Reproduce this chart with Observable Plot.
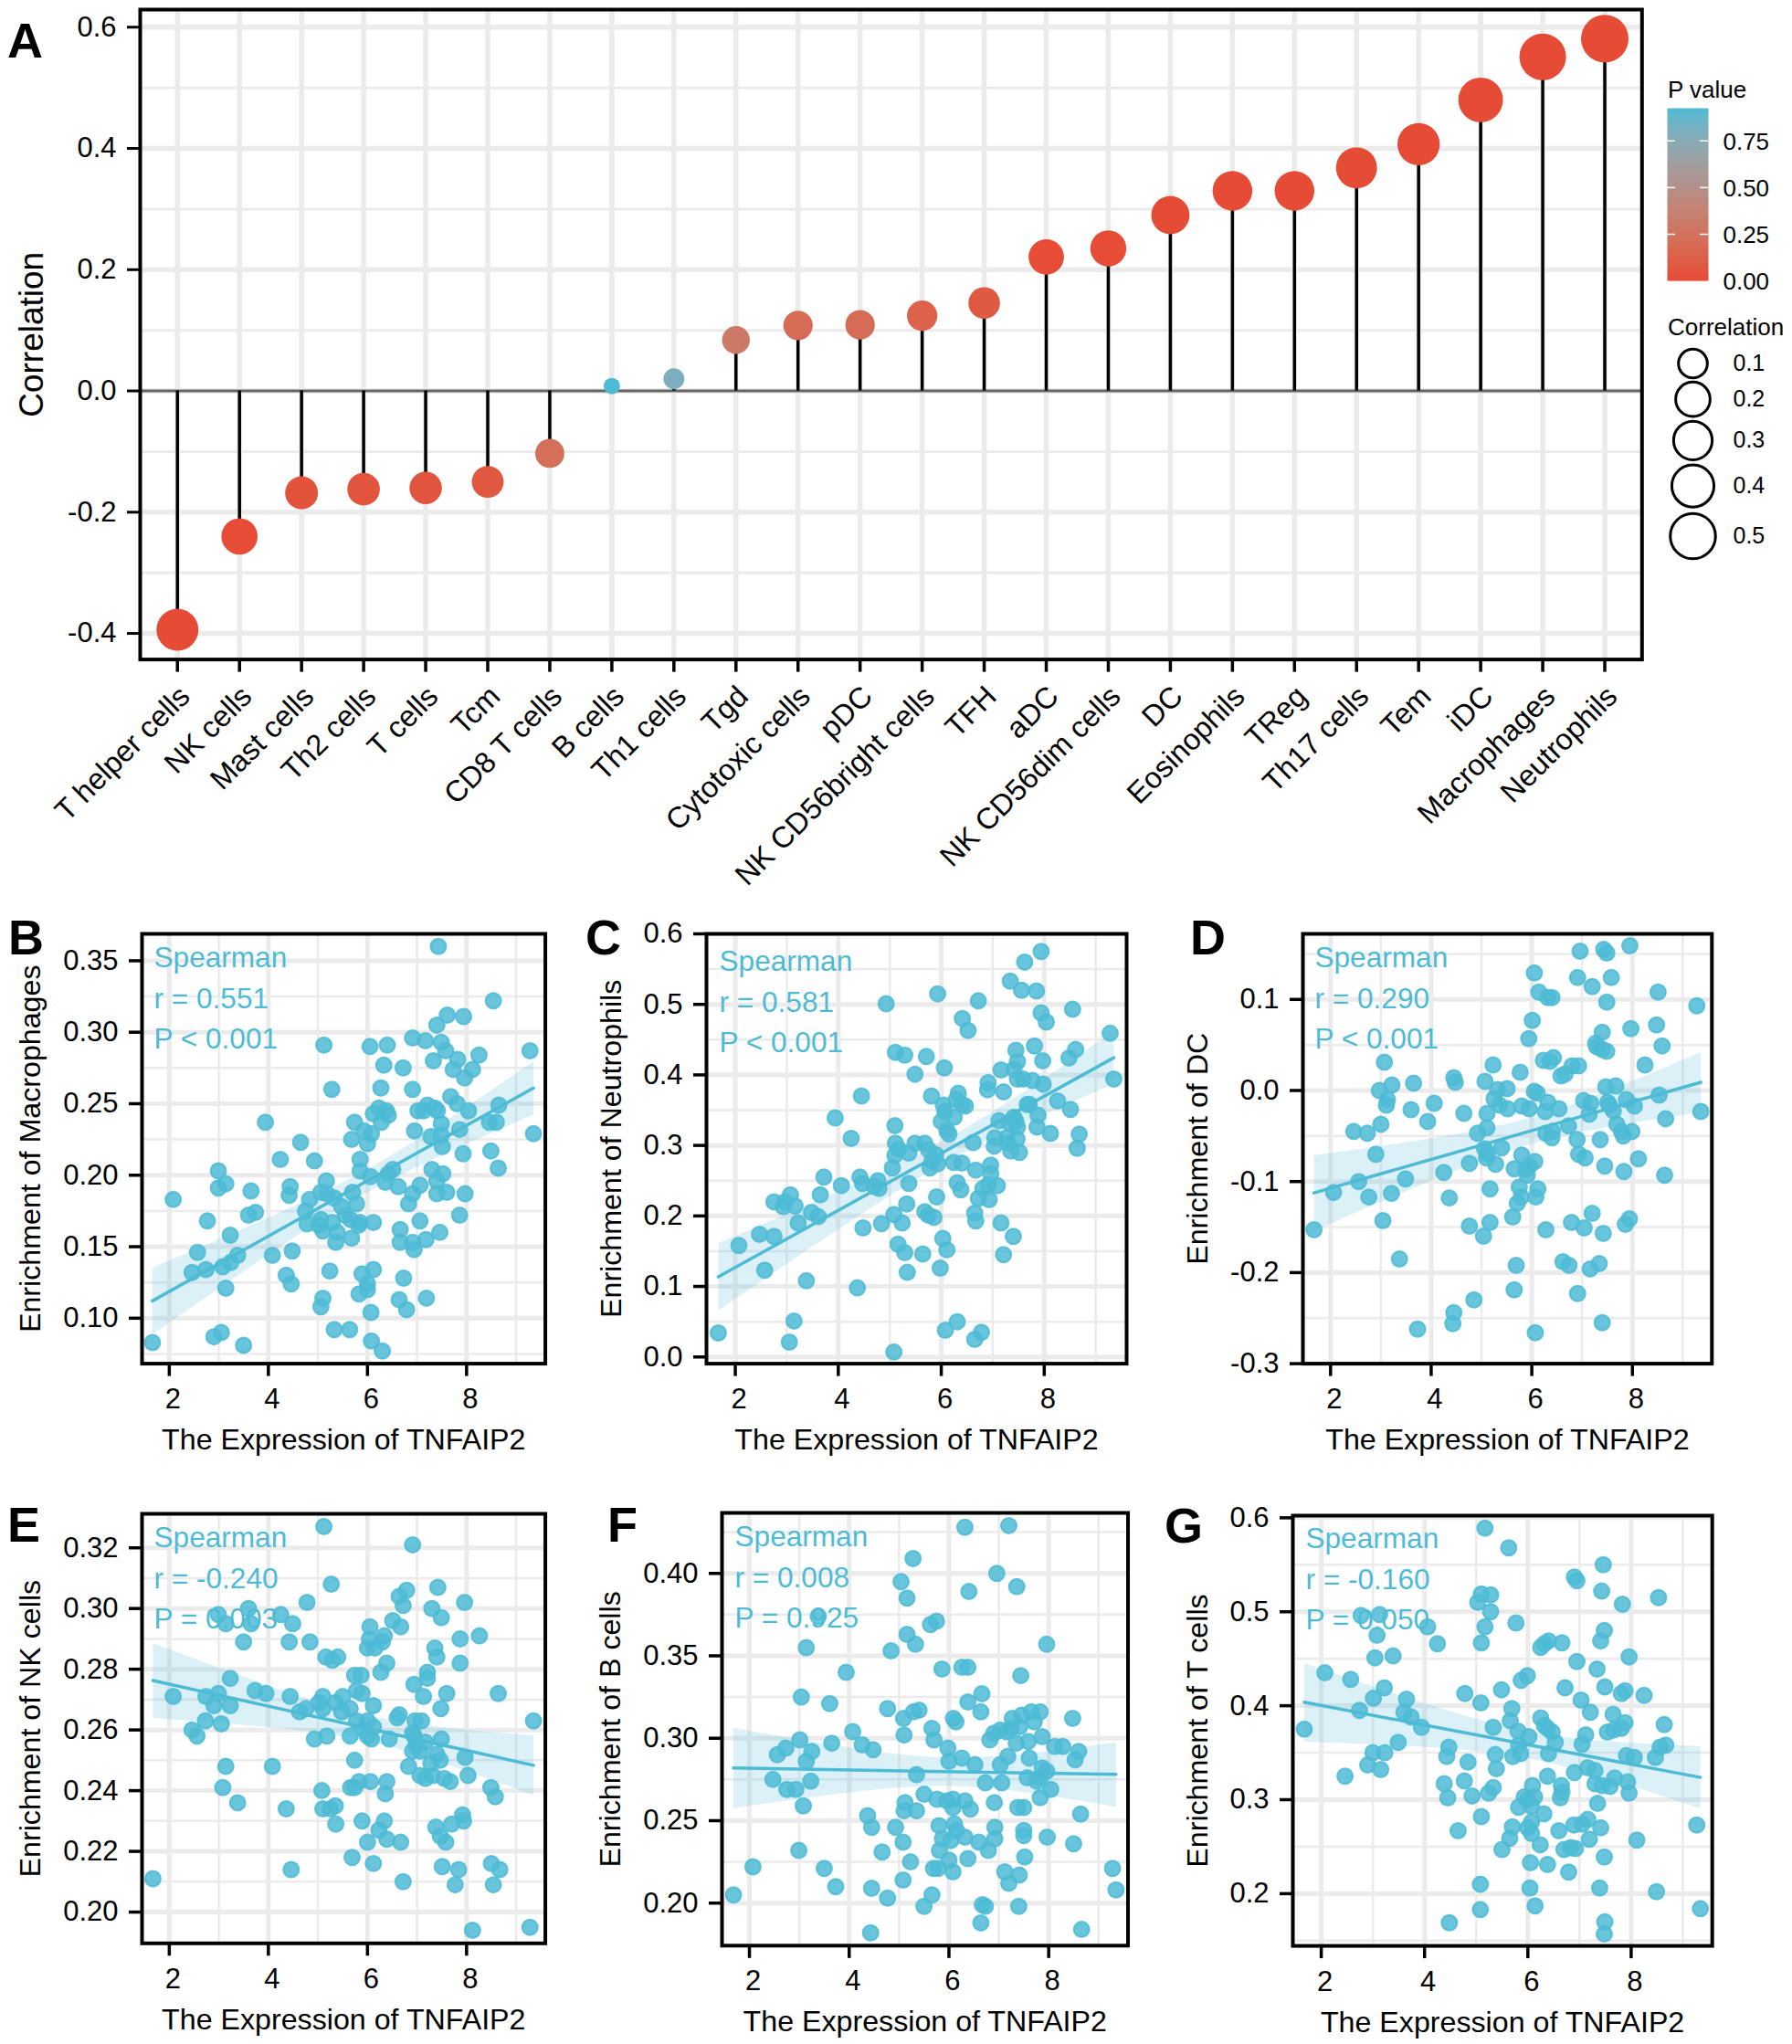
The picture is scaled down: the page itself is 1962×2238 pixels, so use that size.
<!DOCTYPE html>
<html><head><meta charset="utf-8">
<script src="https://cdn.jsdelivr.net/npm/d3@7"></script>
<script src="https://cdn.jsdelivr.net/npm/@observablehq/plot@0.6"></script>
<style>
html,body{margin:0;padding:0;background:#fff}
#root{position:relative;width:1962px;height:2238px;overflow:hidden;font-family:"Liberation Sans",Arial,sans-serif;color:#000}
.lbl{position:absolute;line-height:1;white-space:nowrap}
.big{font-weight:bold;font-size:54px}
.leg{font-size:26px}
</style></head><body><div id="root"></div>
<script>
const cells=["T helper cells","NK cells","Mast cells","Th2 cells","T cells","Tcm","CD8 T cells","B cells","Th1 cells","Tgd","Cytotoxic cells","pDC","NK CD56bright cells","TFH","aDC","NK CD56dim cells","DC","Eosinophils","TReg","Th17 cells","Tem","iDC","Macrophages","Neutrophils"];
const corrs=[-0.394,-0.24,-0.168,-0.162,-0.16,-0.15,-0.103,0.008,0.02,0.084,0.108,0.109,0.124,0.145,0.221,0.235,0.29,0.33,0.33,0.368,0.407,0.48,0.551,0.581];
const pvals=[0,0.003,0.04,0.05,0.05,0.07,0.22,0.925,0.8,0.3,0.2,0.2,0.13,0.08,0.006,0.004,0,0,0,0,0,0,0,0];

const macrophages=[[7.43,.360],[8.54,.322],[7.61,.312],[7.94,.311],[7.40,.305],[6.91,.296],[7.17,.294],[7.49,.293],[5.12,.291],[6.05,.290],[6.40,.291],[7.58,.287],[9.28,.287],[8.25,.284],[7.33,.280],[7.82,.281],[6.33,.277],[6.72,.275],[7.73,.274],[8.12,.274],[7.96,.268],[5.28,.260],[6.27,.261],[6.91,.260],[7.68,.255],[7.81,.250],[8.65,.249],[8.04,.245],[6.23,.247],[6.38,.245],[6.12,.243],[6.42,.242],[6.28,.237],[7.02,.245],[7.13,.245],[7.21,.249],[7.36,.247],[7.41,.245],[7.49,.236],[3.94,.237],[5.74,.237],[8.46,.237],[8.60,.237],[7.86,.232],[9.35,.229],[6.95,.231],[5.93,.231],[6.08,.229],[5.68,.225],[6.00,.222],[7.28,.227],[7.49,.228],[7.51,.220],[4.65,.223],[7.93,.215],[8.49,.217],[4.24,.211],[4.93,.210],[5.85,.211],[8.64,.205],[5.85,.203],[7.30,.204],[7.52,.201],[2.99,.203],[6.06,.199],[6.51,.204],[6.42,.201],[5.17,.196],[6.36,.195],[6.62,.192],[7.06,.193],[7.40,.196],[3.14,.194],[2.99,.191],[4.44,.192],[4.42,.186],[3.65,.189],[2.08,.183],[5.06,.188],[5.18,.187],[5.70,.188],[5.33,.184],[4.83,.183],[5.78,.180],[6.91,.187],[6.83,.180],[7.40,.187],[7.60,.188],[7.97,.187],[7.86,.172],[3.74,.174],[3.60,.172],[4.75,.175],[5.48,.178],[5.55,.172],[2.77,.168],[4.78,.166],[5.06,.169],[5.02,.165],[5.10,.161],[5.29,.167],[5.66,.169],[5.82,.165],[5.85,.167],[6.12,.167],[5.39,.160],[5.36,.153],[5.68,.156],[7.06,.168],[6.66,.162],[7.46,.160],[6.66,.153],[6.91,.153],[6.94,.148],[7.18,.155],[3.23,.158],[2.57,.146],[4.48,.147],[3.38,.144],[4.08,.144],[3.24,.139],[3.08,.136],[2.74,.134],[2.46,.132],[5.24,.133],[6.12,.134],[5.89,.131],[4.36,.130],[6.73,.128],[6.00,.124],[4.46,.124],[3.14,.121],[6.00,.120],[5.83,.117],[6.64,.113],[7.19,.114],[5.10,.114],[5.06,.108],[6.07,.104],[6.79,.106],[5.33,.092],[5.64,.092],[3.05,.090],[2.90,.087],[3.50,.081],[1.66,.083],[6.08,.084],[6.30,.077]];

const neutrophils=[[7.94,.575],[7.62,.560],[7.34,.533],[7.56,.520],[7.85,.519],[5.93,.515],[6.72,.505],[4.93,.501],[8.55,.493],[6.41,.480],[7.94,.488],[8.04,.475],[6.52,.463],[9.28,.459],[7.81,.441],[8.61,.436],[8.48,.424],[7.45,.435],[7.48,.419],[5.11,.432],[5.29,.428],[5.71,.426],[7.97,.420],[6.06,.410],[7.16,.407],[7.41,.408],[5.49,.401],[7.48,.394],[7.59,.394],[7.77,.392],[7.98,.387],[9.35,.394],[6.91,.389],[6.90,.379],[7.21,.376],[4.45,.370],[5.81,.370],[6.33,.374],[6.29,.365],[6.47,.356],[6.40,.358],[6.04,.357],[6.07,.348],[8.26,.363],[7.67,.358],[7.71,.358],[8.51,.351],[3.94,.339],[7.88,.343],[6.25,.340],[6.00,.334],[7.12,.335],[7.41,.340],[7.45,.334],[7.34,.331],[7.48,.326],[7.86,.326],[5.10,.328],[6.11,.321],[6.15,.316],[8.12,.317],[8.68,.316],[4.25,.310],[7.04,.311],[7.27,.311],[7.47,.309],[6.62,.304],[5.11,.303],[5.49,.303],[5.68,.303],[7.30,.303],[7.03,.299],[5.17,.295],[5.10,.286],[5.37,.289],[5.75,.294],[7.35,.292],[7.52,.290],[8.64,.296],[5.89,.287],[5.82,.278],[6.24,.276],[6.40,.275],[5.93,.274],[5.78,.268],[5.05,.268],[6.67,.265],[6.96,.272],[6.96,.260],[3.72,.255],[4.42,.255],[4.47,.246],[4.77,.250],[4.70,.242],[4.79,.239],[4.06,.243],[5.37,.246],[6.31,.247],[6.38,.237],[7.09,.243],[6.91,.244],[6.81,.239],[6.72,.225],[6.93,.223],[3.65,.230],[3.07,.230],[2.75,.220],[2.96,.220],[2.93,.213],[3.16,.214],[5.91,.227],[5.33,.217],[3.48,.205],[3.61,.199],[5.68,.206],[5.75,.201],[5.86,.198],[5.08,.202],[6.65,.204],[6.67,.193],[3.22,.190],[4.84,.189],[5.24,.190],[7.16,.190],[2.47,.174],[4.48,.183],[2.75,.171],[7.40,.171],[6.03,.168],[2.07,.158],[5.16,.160],[5.29,.148],[6.11,.152],[5.64,.146],[7.21,.145],[2.57,.123],[5.98,.126],[5.34,.120],[3.38,.108],[4.37,.098],[3.14,.051],[6.31,.050],[6.08,.038],[6.78,.035],[6.65,.025],[1.67,.034],[3.05,.021],[5.08,.007]];

const dc=[[6.96,.153],[7.43,.155],[7.49,.151],[7.95,.159],[6.05,.129],[6.91,.124],[7.58,.124],[7.20,.114],[6.14,.108],[8.51,.108],[6.32,.102],[6.40,.102],[7.49,.097],[9.28,.093],[6.01,.077],[8.48,.072],[7.97,.068],[7.40,.064],[5.94,.057],[7.27,.052],[7.29,.048],[8.59,.049],[7.40,.045],[7.49,.043],[3.07,.031],[6.43,.036],[6.23,.033],[6.36,.032],[6.80,.027],[6.93,.027],[5.23,.028],[8.25,.028],[5.77,.020],[6.58,.016],[6.66,.018],[4.45,.014],[4.48,.009],[3.65,.008],[5.07,.010],[3.22,.006],[2.97,.000],[5.32,.001],[5.51,.002],[6.05,-.001],[6.11,-.003],[7.47,.004],[7.67,.005],[8.53,-.005],[5.25,-.009],[7.03,-.011],[7.88,-.010],[6.32,-.013],[3.13,-.010],[3.11,-.016],[4.06,-.014],[7.17,-.014],[7.51,-.013],[7.54,-.016],[8.04,-.017],[5.36,-.016],[5.52,-.020],[5.80,-.017],[5.95,-.020],[6.27,-.023],[6.54,-.020],[7.62,-.022],[9.36,-.023],[3.60,-.021],[4.65,-.025],[5.11,-.025],[7.14,-.026],[8.66,-.031],[3.93,-.034],[3.00,-.037],[6.73,-.039],[7.69,-.037],[5.11,-.041],[2.46,-.045],[2.73,-.047],[4.92,-.047],[6.28,-.047],[6.41,-.045],[6.40,-.052],[7.78,-.045],[7.99,-.045],[7.82,-.050],[6.90,-.054],[7.36,-.054],[5.40,-.063],[5.06,-.064],[5.12,-.069],[2.90,-.070],[5.80,-.071],[5.10,-.074],[6.93,-.070],[7.06,-.074],[8.12,-.075],[6.06,-.078],[5.28,-.081],[4.76,-.080],[5.95,-.083],[7.45,-.083],[5.65,-.086],[5.88,-.087],[4.25,-.090],[7.83,-.089],[5.91,-.093],[8.64,-.093],[3.49,-.097],[2.56,-.100],[5.75,-.106],[6.12,-.108],[5.17,-.108],[2.06,-.112],[3.21,-.113],[4.36,-.118],[2.76,-.117],[5.79,-.117],[6.08,-.117],[5.71,-.124],[7.20,-.135],[5.62,-.139],[3.04,-.143],[5.17,-.145],[6.79,-.145],[4.76,-.149],[7.94,-.141],[7.86,-.147],[7.04,-.151],[6.28,-.153],[1.67,-.153],[7.42,-.157],[5.04,-.160],[3.37,-.185],[6.62,-.188],[6.74,-.192],[7.34,-.190],[7.16,-.196],[5.69,-.192],[5.65,-.219],[6.91,-.223],[4.85,-.230],[4.45,-.244],[7.40,-.255],[4.43,-.256],[3.73,-.262],[6.07,-.266]];

const nkCells=[[5.12,.327],[6.91,.321],[5.27,.308],[7.42,.307],[6.79,.306],[6.64,.304],[6.72,.301],[4.78,.302],[7.96,.302],[7.30,.300],[7.49,.297],[2.99,.298],[3.14,.295],[3.60,.300],[3.65,.295],[4.25,.298],[4.49,.295],[3.50,.289],[4.42,.289],[4.84,.289],[6.51,.296],[6.67,.294],[6.05,.294],[8.26,.291],[6.34,.291],[6.04,.290],[6.30,.289],[7.87,.290],[6.00,.287],[6.15,.287],[7.36,.287],[7.40,.284],[5.16,.284],[5.40,.284],[5.29,.283],[6.39,.282],[7.87,.282],[6.27,.279],[5.87,.278],[5.74,.278],[7.21,.279],[7.21,.277],[3.23,.277],[6.94,.275],[3.73,.273],[3.95,.272],[5.78,.273],[5.89,.272],[7.60,.272],[8.64,.272],[2.99,.272],[2.74,.271],[2.08,.271],[4.44,.271],[7.13,.271],[5.10,.271],[5.50,.271],[5.35,.269],[5.02,.269],[2.90,.268],[3.23,.268],[6.12,.268],[5.10,.267],[5.65,.267],[4.76,.267],[4.63,.266],[5.48,.266],[7.48,.267],[6.64,.265],[6.60,.264],[2.73,.263],[3.05,.262],[5.78,.263],[6.00,.263],[6.96,.263],[7.09,.263],[9.35,.263],[6.12,.261],[2.46,.260],[2.56,.258],[5.93,.260],[6.91,.259],[6.00,.258],[5.18,.258],[5.65,.258],[4.93,.257],[6.08,.257],[6.94,.258],[6.44,.257],[7.17,.256],[7.49,.257],[6.98,.255],[6.91,.253],[7.06,.253],[7.40,.252],[7.97,.251],[5.74,.250],[7.47,.250],[7.28,.249],[4.08,.248],[3.14,.248],[6.83,.248],[7.06,.245],[7.17,.244],[7.32,.245],[8.03,.245],[7.55,.244],[7.67,.243],[8.49,.241],[6.39,.243],[6.06,.243],[5.83,.243],[5.66,.241],[5.74,.241],[3.08,.241],[5.08,.240],[6.36,.239],[8.58,.238],[3.38,.236],[5.35,.235],[5.10,.234],[5.25,.234],[4.36,.234],[7.92,.232],[7.94,.230],[6.34,.230],[5.89,.230],[5.36,.229],[7.70,.229],[7.38,.228],[6.23,.227],[7.47,.225],[7.58,.223],[6.39,.224],[6.67,.223],[6.00,.223],[5.69,.218],[6.12,.216],[8.50,.216],[7.51,.215],[8.67,.214],[7.84,.214],[4.46,.214],[1.67,.211],[6.72,.210],[8.54,.209],[7.77,.209],[8.12,.194],[9.28,.195]];

const bCells=[[6.32,.428],[7.20,.429],[5.28,.409],[6.96,.400],[5.04,.395],[7.36,.392],[6.40,.389],[5.16,.385],[3.38,.374],[5.75,.371],[5.63,.369],[5.16,.363],[5.33,.357],[7.96,.357],[4.84,.353],[3.14,.355],[6.26,.343],[6.38,.343],[5.86,.342],[3.94,.340],[7.44,.338],[6.66,.327],[3.04,.325],[6.38,.322],[3.61,.321],[4.77,.318],[5.40,.317],[5.29,.316],[6.64,.316],[7.83,.316],[7.65,.316],[5.09,.312],[8.48,.312],[6.09,.312],[6.14,.310],[7.27,.312],[7.46,.314],[7.71,.310],[7.42,.307],[7.24,.306],[5.66,.306],[7.03,.305],[6.90,.303],[7.16,.304],[4.07,.304],[5.10,.302],[7.87,.301],[5.70,.299],[6.82,.299],[3.01,.299],[7.59,.298],[7.35,.297],[3.65,.297],[4.26,.296],[8.12,.295],[8.28,.295],[2.73,.294],[4.48,.293],[5.98,.294],[3.25,.292],[2.56,.290],[8.60,.292],[7.18,.289],[7.61,.288],[6.26,.288],[8.53,.287],[3.14,.286],[6.00,.286],[6.52,.284],[7.03,.284],[7.87,.282],[7.96,.280],[5.35,.278],[7.57,.276],[7.83,.276],[2.47,.275],[3.23,.274],[6.73,.273],[7.06,.273],[7.76,.274],[2.75,.269],[2.93,.269],[8.04,.269],[5.50,.266],[5.76,.263],[5.96,.262],[6.08,.263],[7.83,.264],[6.32,.262],[6.91,.261],[5.12,.261],[6.08,.258],[3.08,.259],[6.43,.257],[7.38,.258],[7.50,.258],[5.10,.256],[5.35,.256],[8.64,.254],[4.37,.253],[4.45,.246],[5.80,.247],[6.11,.248],[6.92,.246],[4.93,.246],[7.50,.244],[6.15,.244],[7.50,.241],[6.32,.240],[7.97,.240],[6.92,.239],[5.87,.239],[6.04,.238],[5.08,.237],[6.60,.237],[8.50,.236],[5.81,.232],[2.99,.232],[6.79,.232],[4.66,.231],[7.52,.228],[6.38,.227],[2.07,.222],[6.00,.226],[5.23,.225],[5.69,.221],[5.78,.221],[3.50,.221],[9.28,.221],[6.08,.219],[7.12,.219],[7.41,.217],[7.20,.212],[5.08,.214],[3.73,.210],[9.35,.208],[4.45,.209],[5.66,.205],[1.68,.205],[4.77,.203],[6.67,.199],[6.73,.198],[5.50,.198],[7.40,.198],[6.64,.188],[8.66,.184],[4.43,.182]];

const tCells=[[5.17,.589],[5.63,.568],[7.46,.550],[6.90,.537],[6.95,.533],[7.43,.522],[8.53,.515],[5.10,.519],[5.28,.518],[5.03,.510],[7.83,.508],[5.28,.500],[3.13,.497],[2.77,.496],[5.77,.488],[3.08,.475],[4.06,.484],[5.17,.484],[7.48,.480],[7.41,.469],[5.10,.467],[6.40,.469],[6.32,.466],[6.25,.462],[6.66,.467],[4.25,.466],[3.39,.453],[3.04,.451],[7.96,.452],[6.95,.447],[7.34,.439],[2.07,.435],[2.57,.428],[5.99,.432],[5.87,.427],[7.49,.420],[6.72,.419],[3.22,.419],[5.49,.417],[7.88,.416],[7.81,.413],[4.78,.413],[8.25,.411],[3.01,.408],[3.65,.407],[7.03,.406],[5.09,.403],[2.74,.395],[5.69,.397],[3.60,.393],[7.21,.393],[3.74,.388],[7.65,.391],[6.25,.387],[5.66,.384],[7.88,.382],[8.64,.380],[6.32,.379],[6.38,.376],[5.33,.377],[3.94,.377],[1.67,.375],[7.81,.376],[7.66,.374],[7.54,.372],[5.81,.373],[6.47,.372],[6.02,.367],[7.12,.369],[6.53,.361],[7.05,.359],[3.49,.361],[5.82,.358],[8.67,.358],[8.56,.356],[4.47,.356],[6.40,.349],[5.37,.348],[5.86,.349],[3.00,.350],[3.23,.350],[7.91,.347],[5.71,.346],[4.43,.346],[8.06,.345],[8.47,.345],[4.84,.340],[2.90,.337],[5.39,.333],[3.15,.332],[7.16,.334],[7.30,.331],[6.90,.329],[2.46,.325],[6.38,.325],[7.68,.323],[7.93,.319],[4.77,.320],[4.38,.317],[7.30,.317],[7.44,.315],[7.59,.314],[6.09,.315],[6.65,.315],[5.33,.313],[6.66,.308],[5.24,.307],[7.96,.307],[4.92,.304],[4.45,.302],[6.63,.302],[5.93,.303],[6.13,.303],[6.00,.300],[6.07,.293],[7.35,.296],[5.82,.292],[6.31,.285],[5.10,.282],[7.16,.279],[7.05,.274],[6.89,.273],[9.27,.273],[6.07,.276],[5.70,.271],[6.00,.270],[7.41,.270],[6.60,.267],[4.65,.267],[6.07,.264],[5.65,.259],[7.19,.258],[8.11,.257],[6.24,.252],[5.50,.247],[6.70,.247],[6.83,.249],[6.92,.248],[7.48,.239],[6.05,.233],[6.38,.231],[6.79,.223],[5.08,.210],[6.04,.206],[7.39,.206],[8.49,.202],[6.14,.187],[9.34,.184],[5.08,.183],[4.48,.169],[7.49,.170],[7.48,.157]];

const xMajor=[2,4,6,8], xMinor=[3,5,7,9];
const aMajor=[-0.4,-0.2,0,0.2,0.4,0.6], aMinor=[-0.3,-0.1,0.1,0.3,0.5];
const legendP=[0,0.25,0.5,0.75], legendR=[0.1,0.2,0.3,0.4,0.5];
const RED="#E64B35", BLUE="#4DBBD5", GRID="#ebebeb", FONT='"Liberation Sans",Arial,sans-serif';
const rScale={type:"sqrt",domain:[0,0.572],range:[9,26]};
const colorScale={type:"linear",domain:[0,0.925],range:[RED,BLUE],interpolate:"lab"};
const root=document.getElementById("root");

function place(node,left,top,size){
  Object.assign(node.style,{position:"absolute",left:left+"px",top:top+"px",background:"transparent",overflow:"visible",fontFamily:FONT,fontSize:size+"px",color:"#000"});
  root.appendChild(node);
}
function label(t,cls,left,top){
  const d=document.createElement("div");d.className="lbl "+cls;d.textContent=t;d.style.left=left+"px";d.style.top=top+"px";root.appendChild(d);
}

/* Panel A */
{
  const F={l:152.7,r:1797,t:9.8,b:721.4}, ml=150, mr=8, mt=8, mb=240;
  const table=cells.map((c,i)=>({cell:c,corr:corrs[i],p:pvals[i]}));
  const node=Plot.plot({
    width:F.r-F.l+ml+mr,height:F.b-F.t+mt+mb,marginLeft:ml,marginRight:mr,marginTop:mt,marginBottom:mb,
    x:{type:"point",domain:cells,padding:0.6,round:false},
    y:{domain:[-0.443,0.629]},
    r:rScale,color:colorScale,
    marks:[
      Plot.gridX(cells,{stroke:GRID,strokeOpacity:1,strokeWidth:5.5}),
      Plot.gridY(aMinor,{stroke:GRID,strokeOpacity:1,strokeWidth:3}),
      Plot.gridY(aMajor,{stroke:GRID,strokeOpacity:1,strokeWidth:5.5}),
      Plot.ruleY([0],{stroke:"#666",strokeWidth:3}),
      Plot.ruleX(table,{x:"cell",y1:0,y2:"corr",stroke:"#000",strokeWidth:3.5}),
      Plot.dot(table,{x:"cell",y:"corr",r:d=>Math.abs(d.corr)-0.008,fill:"p"}),
      Plot.axisY({ticks:aMajor,tickSize:14,tickPadding:12,strokeWidth:3,tickFormat:d=>d.toFixed(1),label:null}),
      Plot.axisX({tickSize:14,strokeWidth:3.5,tickFormat:()=>"",label:null}),
      Plot.axisX({tickSize:0,tickRotate:-45,tickPadding:35,dx:8,fontSize:32.5,label:null}),
      Plot.text(["Correlation"],{frameAnchor:"left",rotate:-90,textAnchor:"middle",lineAnchor:"middle",dx:-118,fontSize:37}),
      Plot.frame({stroke:"#000",strokeWidth:4})
    ]
  });
  place(node,F.l-ml,F.t-mt,31);
}

/* P value legend */
{
  const F={l:1825,r:1870,t:118.2,b:307.3}, mr=80;
  const node=Plot.plot({
    width:F.r-F.l+mr,height:F.b-F.t+4,marginLeft:0,marginRight:mr,marginTop:0,marginBottom:4,
    x:{domain:[0,1],axis:null},y:{domain:[0,0.925],axis:null},color:colorScale,
    marks:[
      Plot.raster({fill:(x,y)=>y,x1:0,x2:1,y1:0,y2:0.925,width:4,height:190,imageRendering:"auto"}),
      Plot.ruleY(legendP.slice(1),{x1:0,x2:0.2,stroke:"#fff",strokeWidth:1.5}),
      Plot.ruleY(legendP.slice(1),{x1:0.8,x2:1,stroke:"#fff",strokeWidth:1.5}),
      Plot.axisY({ticks:legendP,anchor:"right",tickSize:0,tickPadding:16,dy:1.5,tickFormat:d=>d.toFixed(2),label:null})
    ]
  });
  place(node,F.l,F.t,26);
  label("P value","leg",1826,85);
}

/* Correlation legend */
{
  const centres=[397.5,436.7,481.8,531.6,586.5], top=360, bottom=620, cx=1853.3, half=30, mr=90;
  const node=Plot.plot({
    width:2*half+mr,height:bottom-top,marginLeft:0,marginRight:mr,marginTop:0,marginBottom:0,
    x:{axis:null},
    y:{type:"linear",domain:legendR,range:centres.map(c=>c-top),axis:null},
    r:rScale,
    marks:[
      Plot.dot(legendR,{y:d=>d,r:d=>d-0.008,stroke:"#000",strokeWidth:3,fill:"none"}),
      Plot.axisY({ticks:legendR,anchor:"right",tickSize:0,tickPadding:14,tickFormat:d=>d.toFixed(1),label:null})
    ]
  });
  place(node,cx-half,top,25);
  label("Correlation","leg",1826,345);
}

/* Scatter panels */
function scatter(o){
  const F=o.frame, ml=150, mr=8, mt=8, mb=120;
  const node=Plot.plot({
    width:F.r-F.l+ml+mr,height:F.b-F.t+mt+mb,marginLeft:ml,marginRight:mr,marginTop:mt,marginBottom:mb,
    x:{domain:o.xDomain},y:{domain:o.yDomain},
    marks:[
      Plot.gridX(xMinor,{stroke:GRID,strokeOpacity:1,strokeWidth:2.5}),
      Plot.gridY(o.yMinor,{stroke:GRID,strokeOpacity:1,strokeWidth:2.5}),
      Plot.gridX(xMajor,{stroke:GRID,strokeOpacity:1,strokeWidth:5}),
      Plot.gridY(o.yMajor,{stroke:GRID,strokeOpacity:1,strokeWidth:5}),
      Plot.text([o.note],{frameAnchor:"top-left",textAnchor:"start",lineAnchor:"top",dx:o.noteDx,dy:o.noteDy,lineHeight:1.41,fill:BLUE,fontSize:31.6}),
      Plot.linearRegressionY(o.data,{x:d=>d[0],y:d=>d[1],stroke:BLUE,strokeWidth:3.5,fillOpacity:0.2,ci:0.95}),
      Plot.dot(o.data,{x:d=>d[0],y:d=>d[1],r:8.4,fill:BLUE,fillOpacity:0.85,stroke:BLUE,strokeOpacity:0.85,strokeWidth:2.2}),
      Plot.axisX({ticks:xMajor,tickSize:14,strokeWidth:3.5,tickFormat:()=>"",label:null}),
      Plot.axisX({ticks:xMajor,tickSize:0,tickPadding:27,dx:4,tickFormat:d=>String(d),label:null}),
      Plot.axisY({ticks:o.yMajor,tickSize:14,tickPadding:12,strokeWidth:3.5,tickFormat:d=>d.toFixed(o.digits),label:null}),
      Plot.text(["The Expression of TNFAIP2"],{frameAnchor:"bottom",textAnchor:"middle",lineAnchor:"bottom",dy:94,fontSize:32.2}),
      Plot.text([o.yTitle],{frameAnchor:"left",rotate:-90,textAnchor:"middle",lineAnchor:"middle",dx:-o.titleOffset,fontSize:32.2}),
      Plot.frame({stroke:"#000",strokeWidth:4})
    ]
  });
  place(node,F.l-ml,F.t-mt,31);
}

scatter({data:macrophages,frame:{l:155.1,r:596.7,t:1021.6,b:1492.2},xDomain:[1.45,9.59],yDomain:[0.0682,0.3688],
  yMajor:[0.10,0.15,0.20,0.25,0.30,0.35],yMinor:[0.075,0.125,0.175,0.225,0.275,0.325],digits:2,
  yTitle:"Enrichment of Macrophages",titleOffset:122,note:"Spearman\nr = 0.551\nP < 0.001",noteDx:13,noteDy:5});
scatter({data:neutrophils,frame:{l:772.9,r:1232.9,t:1021.6,b:1492.2},xDomain:[1.44,9.60],yDomain:[-0.0095,0.60],
  yMajor:[0,0.1,0.2,0.3,0.4,0.5,0.6],yMinor:[0.05,0.15,0.25,0.35,0.45,0.55],digits:1,
  yTitle:"Enrichment of Neutrophils",titleOffset:104,note:"Spearman\nr = 0.581\nP < 0.001",noteDx:14,noteDy:9});
scatter({data:dc,frame:{l:1426.3,r:1874.1,t:1021.6,b:1492.2},xDomain:[1.45,9.58],yDomain:[-0.3,0.172],
  yMajor:[-0.3,-0.2,-0.1,0,0.1],yMinor:[-0.25,-0.15,-0.05,0.05,0.15],digits:1,
  yTitle:"Enrichment of DC",titleOffset:115,note:"Spearman\nr = 0.290\nP < 0.001",noteDx:13,noteDy:5});
scatter({data:nkCells,frame:{l:155.1,r:596.7,t:1657.4,b:2127.7},xDomain:[1.45,9.59],yDomain:[0.1897,0.3312],
  yMajor:[0.20,0.22,0.24,0.26,0.28,0.30,0.32],yMinor:[0.21,0.23,0.25,0.27,0.29,0.31],digits:2,
  yTitle:"Enrichment of NK cells",titleOffset:122,note:"Spearman\nr = -0.240\nP = 0.003",noteDx:13,noteDy:5});
scatter({data:bCells,frame:{l:789.6,r:1234.1,t:1655.9,b:2129.7},xDomain:[1.45,9.59],yDomain:[0.1742,0.4367],
  yMajor:[0.20,0.25,0.30,0.35,0.40],yMinor:[0.225,0.275,0.325,0.375,0.425],digits:2,
  yTitle:"Enrichment of B cells",titleOffset:122,note:"Spearman\nr = 0.008\nP = 0.925",noteDx:14,noteDy:5});
scatter({data:tCells,frame:{l:1414.9,r:1874.1,t:1658.6,b:2129.7},xDomain:[1.45,9.57],yDomain:[0.1444,0.6023],
  yMajor:[0.2,0.3,0.4,0.5,0.6],yMinor:[0.15,0.25,0.35,0.45,0.55],digits:1,
  yTitle:"Enrichment of T cells",titleOffset:104,note:"Spearman\nr = -0.160\nP = 0.050",noteDx:14,noteDy:4});

/* Panel letters */
[["A",8,17],["B",9,999],["C",641,999],["D",1303,999],["E",8,1642],["F",665,1642],["G",1275,1643]].forEach(([t,l,y])=>label(t,"big",l,y));
</script></body></html>
